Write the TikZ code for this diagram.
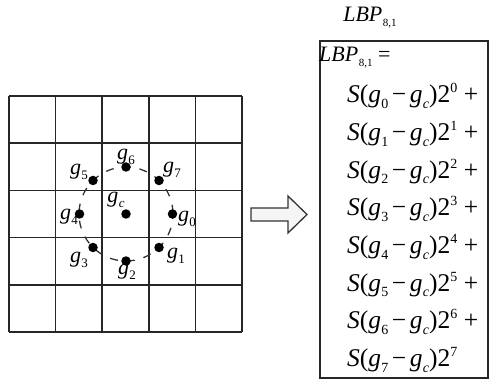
\documentclass[tikz,border=0pt]{standalone}
\usepackage{fontspec}
\setmainfont{Liberation Serif}
\newcommand{\gl}[1]{\textit{g}\kern0.3pt\raisebox{-0.5ex}{\fontsize{13}{13}\selectfont #1}}
\newcommand{\sz}{\fontsize{14}{14}\selectfont}
\newcommand{\Srow}[3]{\textit{S}(\textit{g}\kern0.3pt\raisebox{-0.45ex}{\sz #1}\kern3.5pt−\kern3.5pt\textit{g}\kern0.3pt\raisebox{-0.45ex}{\sz\itshape c})2\raisebox{0.85ex}{\sz #2}#3}
\newcommand{\LBP}{\textit{LBP}\kern0.5pt\raisebox{-0.5ex}{\fontsize{11}{11}\selectfont 8,1}}
\tikzset{
  gridline/.style={line width=1.6pt, draw=black!85},
  gdot/.style={circle, fill=black, inner sep=0pt, minimum size=9.5pt},
  glabel/.style={font=\fontsize{22}{24}\selectfont, inner sep=0pt},
  ring/.style={draw=black!80, line width=1.3pt, dash pattern=on 8pt off 9pt, dash phase=3pt},
  blockarrow/.style={draw=black!80, fill=black!4, line width=1.3pt, line join=miter},
  formbox/.style={draw=black!85, line width=1.5pt},
  formrow/.style={font=\fontsize{25.5}{28}\selectfont, anchor=west, inner sep=0pt},
  titletext/.style={font=\fontsize{22}{24}\selectfont, inner sep=0pt}
}
\begin{document}
\begin{tikzpicture}[x=1pt,y=-1pt]
\useasboundingbox (0,0) rectangle (492,379);
% grid
\foreach \x in {9,55.6,102.2,148.8,195.4,242} {\draw[gridline] (\x,96) -- (\x,332);}
\foreach \y in {96,143.2,190.4,237.6,284.8,332} {\draw[gridline] (9,\y) -- (242,\y);}
% ring and dots
\coordinate (ctr) at (126,214);
\draw[ring] (ctr) circle (47);
\node[gdot] (dc) at (ctr) {};
\node[gdot] (d0) at (172.5,214) {};
\node[gdot] (d1) at (159,247.5) {};
\node[gdot] (d2) at (126,261) {};
\node[gdot] (d3) at (93,247.5) {};
\node[gdot] (d4) at (79.5,214) {};
\node[gdot] (d5) at (93,180.5) {};
\node[gdot] (d6) at (126,167) {};
\node[gdot] (d7) at (159,180.5) {};
% labels
\node[glabel] (lc) at (116,200) {\gl{\itshape c}};
\node[glabel] (l0) at (187,219) {\gl{0}};
\node[glabel] (l1) at (176,256) {\gl{1}};
\node[glabel] (l2) at (127,272) {\gl{2}};
\node[glabel] (l3) at (79,260) {\gl{3}};
\node[glabel] (l4) at (69,217) {\gl{4}};
\node[glabel] (l5) at (79,172) {\gl{5}};
\node[glabel] (l6) at (126,157) {\gl{6}};
\node[glabel] (l7) at (172,170) {\gl{7}};
% block arrow
\draw[blockarrow] (251,208) -- (288,208) -- (288,196) -- (307,214.5) -- (288,233) -- (288,221) -- (251,221) -- cycle;
% formula box
\node[titletext] (title) at (370,18) {\LBP};
\draw[formbox] (320,41) rectangle (488,378);
\node[formrow, font=\fontsize{22}{24}\selectfont] (r) at (319,58) {\LBP\ =};
\node[formrow] (s0) at (347,96) {\Srow{0}{0}{ +}};
\node[formrow] (s1) at (347,134) {\Srow{1}{1}{ +}};
\node[formrow] (s2) at (347,171.5) {\Srow{2}{2}{ +}};
\node[formrow] (s3) at (347,209) {\Srow{3}{3}{ +}};
\node[formrow] (s4) at (347,247) {\Srow{4}{4}{ +}};
\node[formrow] (s5) at (347,284.5) {\Srow{5}{5}{ +}};
\node[formrow] (s6) at (347,322) {\Srow{6}{6}{ +}};
\node[formrow] (s7) at (347,360) {\Srow{7}{7}{}};
\end{tikzpicture}
\end{document}
